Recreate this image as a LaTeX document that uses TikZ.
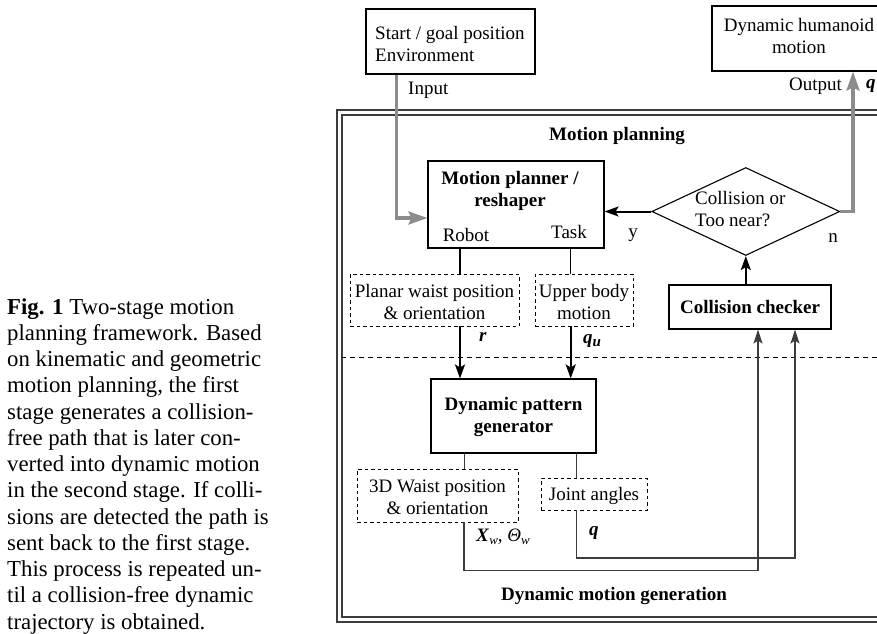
\documentclass[tikz,border=0pt]{standalone}
\usepackage{fontspec}
\setmainfont{Liberation Serif}
\usetikzlibrary{arrows.meta,shapes.geometric}
\newcommand\dfont{\fontsize{19}{22}\selectfont}
\newcommand\cfont{\fontsize{22.8}{26.25}\selectfont}
\definecolor{lgray}{HTML}{8C8C8C}
\definecolor{dgray}{HTML}{3C3C3C}
\tikzset{
  box/.style={draw=black, line width=1.1pt, inner sep=0pt, fill=none},
  dbox/.style={draw=black, line width=0.9pt, dash pattern=on 3.5pt off 3pt, inner sep=0pt},
  lbl/.style={inner sep=0pt, font=\dfont, anchor=base},
  conn/.style={line width=1.3pt, draw=black},
  thinconn/.style={line width=0.9pt, draw=dgray},
  arr/.style={line width=2pt, draw=black, -{Stealth[length=14pt,width=10pt,inset=3pt]}},
  garr/.style={line width=3.3pt, draw=lgray, -{Stealth[length=19pt,width=13pt,inset=3pt]}},
  fb/.style={line width=1.3pt, draw=dgray, -{Stealth[length=14pt,width=9pt,inset=3pt]}},
}
\begin{document}
\begin{tikzpicture}[x=1pt,y=-1pt]
\clip (0,0) rectangle (877,633);
\fill[white] (0,0) rectangle (877,633);

% outer double frame
\node[draw=dgray, line width=1.2pt, minimum width=560pt, minimum height=512pt, inner sep=0pt] (outer) at (617,366) {};
\node[draw=dgray, line width=1.2pt, minimum width=550pt, minimum height=502pt, inner sep=0pt] (inner) at (617,366) {};
\draw[line width=0.9pt, dash pattern=on 5pt off 4pt] (inner.west |- 0,357) coordinate (dl) -- (dl -| inner.east);

\node[lbl, font=\dfont\bfseries] (mp) at (617,140) {Motion planning};
\node[lbl, font=\dfont\bfseries] (dmg) at (614,600) {Dynamic motion generation};

% top boxes
\node[box, minimum width=169pt, minimum height=65pt] (start) at (450.5,41.5) {};
\node[lbl, anchor=base west, align=left] (starttxt) at (375,61) {Start / goal position\\Environment};
\node[lbl, anchor=base west] (input) at (408,94) {Input};

\node[box, minimum width=172pt, minimum height=65pt] (hum) at (798,38.5) {};
\node[lbl, align=center] (humtxt) at (799,53) {Dynamic humanoid\\motion};
\node[lbl, anchor=base east] (output) at (842,90) {Output};
\node[lbl, anchor=base west] (qout) at (866,88) {\textbf{\textit{q}}};

% motion planner
\node[box, minimum width=176pt, minimum height=87pt] (planner) at (516,204.5) {};
\node[lbl, font=\dfont\bfseries, align=center] (plantxt) at (510,206) {Motion planner /\\reshaper};
\node[lbl] (robot) at (466,241) {Robot};
\node[lbl] (task) at (569,238) {Task};

% diamond
\node[draw=black, line width=1.1pt, shape=diamond, inner sep=0pt, minimum width=188pt, minimum height=88pt] (dia) at (745.8,211.5) {};
\node[lbl, anchor=base west, align=left] (diatxt) at (695,226) {Collision or\\Too near?};
\node[lbl] (ylab) at (633,237) {y};
\node[lbl] (nlab) at (833,242) {n};

% collision checker
\node[box, minimum width=162pt, minimum height=44pt] (cc) at (750,307) {};
\node[lbl, font=\dfont\bfseries] (cctxt) at (750,313) {Collision checker};

% dashed boxes upper
\node[dbox, minimum width=169pt, minimum height=52pt] (pw) at (434.5,300) {};
\node[lbl, align=center] (pwtxt) at (434.5,319) {Planar waist position\\\& orientation};
\node[dbox, minimum width=98pt, minimum height=52pt] (ub) at (584,300) {};
\node[lbl, align=center] (ubtxt) at (584,319) {Upper body\\motion};

% DPG
\node[box, minimum width=165pt, minimum height=74pt] (dpg) at (513.5,416) {};
\node[lbl, font=\dfont\bfseries, align=center] (dpgtxt) at (513.5,432) {Dynamic pattern\\generator};

% dashed boxes lower
\node[dbox, minimum width=161pt, minimum height=53pt] (w3) at (437.5,495.5) {};
\node[lbl, align=center] (w3txt) at (437.5,514) {3D Waist position\\\& orientation};
\node[dbox, minimum width=106pt, minimum height=32pt] (ja) at (594,494) {};
\node[lbl] (jatxt) at (594,500) {Joint angles};

% variable labels
\node[lbl, anchor=base west] (rlab) at (479,341.5) {\textbf{\textit{r}}};
\node[lbl, anchor=base west] (qulab) at (583,343) {\textbf{\textit{q}}\raisebox{-0.35ex}{\fontsize{15}{15}\selectfont\textbf{\textit{u}}}};
\node[lbl, anchor=base west] (xwlab) at (476,541) {\textbf{\textit{X}}\raisebox{-0.45ex}{\fontsize{13}{13}\selectfont\textit{w}}, \textit{Θ}\raisebox{-0.45ex}{\fontsize{13}{13}\selectfont\textit{w}}};
\node[lbl, anchor=base west] (qlab) at (589,535) {\textbf{\textit{q}}};

% coordinates for connectors
\coordinate (inx) at (396.7,218);
\coordinate (outx) at (853,71);
\coordinate (rx) at (460,0);
\coordinate (tx) at (570.7,0);
\coordinate (wx) at (464,0);
\coordinate (jx) at (576.7,0);
\coordinate (f1) at (758,570.7);
\coordinate (f2) at (795,558);

% gray input/output
\draw[garr] (start.south -| inx) |- (planner.west |- inx);
\draw[garr] (dia.east) -| (hum.south -| outx);

% black arrows
\draw[arr] (dia.west) -- (dia.west -| planner.east);
\draw[arr] (cc.north -| dia.south) -- (dia.south);
\draw[conn] (planner.south -| rx) -- (pw.north -| rx);
\draw[conn] (planner.south -| tx) -- (ub.north -| tx);
\draw[arr] (pw.south -| rx) -- (dpg.north -| rx);
\draw[arr] (ub.south -| tx) -- (dpg.north -| tx);
\draw[thinconn] (dpg.south -| wx) -- (w3.north -| wx);
\draw[thinconn] (dpg.south -| jx) -- (ja.north -| jx);

% feedback
\draw[fb] (w3.south -| wx) |- (f1) -- (f1 |- cc.south);
\draw[fb] (ja.south -| jx) |- (f2) -- (f2 |- cc.south);

% caption
\node[inner sep=0pt, anchor=north west, align=left, font=\cfont] (cap) at (7,298) {\textbf{Fig. 1} Two-stage motion\\planning framework. Based\\on kinematic and geometric\\motion planning, the first\\stage generates a collision-\\free path that is later con-\\verted into dynamic motion\\in the second stage. If colli-\\sions are detected the path is\\sent back to the first stage.\\This process is repeated un-\\til a collision-free dynamic\\trajectory is obtained.};
\end{tikzpicture}
\end{document}
